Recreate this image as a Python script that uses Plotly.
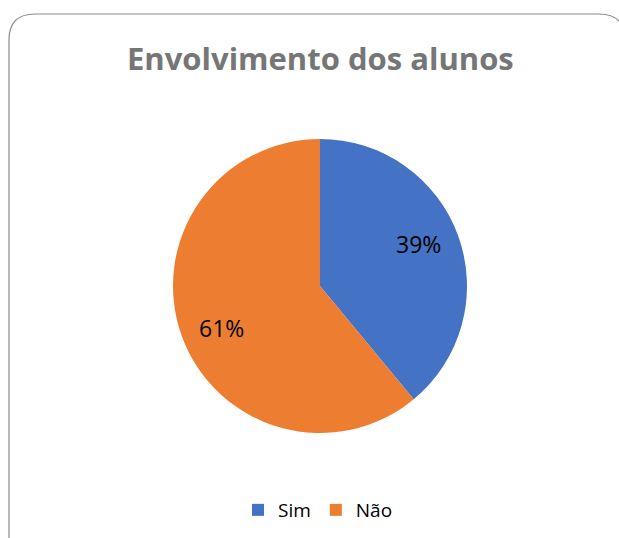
import math
import plotly.graph_objects as go

categories = ["Sim", "Não"]
values = [39, 61]
colors = ["#4472C4", "#ED7D31"]
title_text = "Envolvimento dos alunos"

W, H = 619, 538
FONT = "Open Sans, Liberation Sans, sans-serif"

def px(x):
    return x / W

def py(y):
    return 1 - y / H

# pie geometry (pixels)
CX, CY, RAD = 320, 286, 147

fig = go.Figure(go.Pie(
    labels=categories,
    values=values,
    sort=False,
    direction="clockwise",
    rotation=0,
    marker=dict(colors=colors, line=dict(width=0)),
    textinfo="none",
    domain=dict(x=[px(CX - RAD), px(CX + RAD)], y=[py(CY + RAD), py(CY - RAD)]),
    hoverinfo="label+percent",
))

# data labels placed at slice mid-angles, computed from the values
total = sum(values)
annotations = []
cum = 0
for v in values:
    mid = (cum + v / 2) / total * 2 * math.pi - math.radians(3)
    cum += v
    rr = 0.73 * RAD
    lx = CX + rr * math.sin(mid)
    ly = CY - rr * math.cos(mid)
    annotations.append(dict(text=f"{round(100 * v / total)}%", x=px(lx), y=py(ly),
                            xref="paper", yref="paper", xanchor="center", yanchor="middle",
                            showarrow=False, font=dict(family=FONT, size=23, color="black")))

annotations.append(dict(text=f"<b>{title_text}</b>", x=px(320), y=py(58), xref="paper", yref="paper",
                        xanchor="center", yanchor="middle", showarrow=False,
                        font=dict(family=FONT, size=31, color="#767676")))

# rounded border path
r = 26
L, T, R, B = 9, 14, 625, 570
path = (f"M {px(L)},{py(T + r)} "
        f"Q {px(L)},{py(T)} {px(L + r)},{py(T)} "
        f"L {px(R - r)},{py(T)} "
        f"Q {px(R)},{py(T)} {px(R)},{py(T + r)} "
        f"L {px(R)},{py(B)} L {px(L)},{py(B)} Z")

fig.update_layout(
    width=W, height=H,
    margin=dict(l=0, r=0, t=0, b=0),
    paper_bgcolor="white",
    plot_bgcolor="white",
    shapes=[dict(type="path", xref="paper", yref="paper", path=path,
                 line=dict(color="#8C8C8C", width=1.2), fillcolor="rgba(0,0,0,0)", layer="below")],
    annotations=annotations,
    legend=dict(orientation="h", x=px(318), xanchor="center", y=py(510), yanchor="middle",
                font=dict(family=FONT, size=19, color="black"),
                itemwidth=30, bgcolor="rgba(0,0,0,0)"),
    showlegend=True,
)

fig.write_html("out.html", config={"displayModeBar": False},
               post_script="document.body.style.margin='0';")
